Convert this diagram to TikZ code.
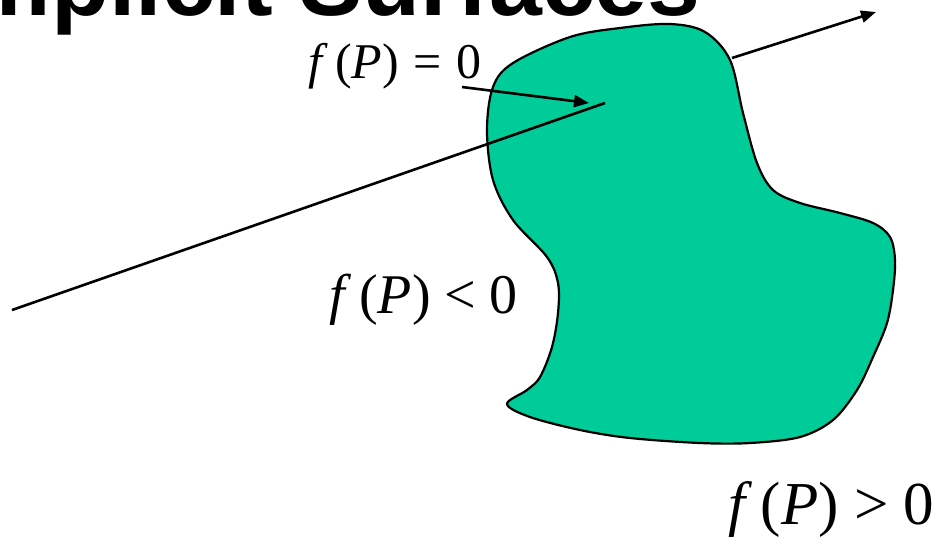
\documentclass[tikz,border=0pt]{standalone}
\usepackage{fontspec}
\setmainfont{Liberation Serif}
\setsansfont{Liberation Sans}
\usepackage{xcolor}
\usetikzlibrary{arrows.meta,positioning}
\definecolor{blobgreen}{HTML}{00CC99}
\newcommand{\fofP}{\textit{f}\hspace{0.14em}(\textit{P})}

\begin{document}
\begin{tikzpicture}[x=0.5pt, y=-0.5pt,
  lbl/.style={inner sep=0pt, anchor=base west},
  ray/.style={line width=1.3pt},
  tip/.style={-{Triangle[length=7.5pt,width=6pt]}}]
  \useasboundingbox (0,0) rectangle (935,537);

  \node[lbl, font=\sffamily\bfseries\fontsize{47.5}{50}\selectfont] (title) at (-60,15) {Implicit Surfaces};

  % the surface
  \draw[line width=1.1pt, fill=blobgreen] plot[smooth cycle, tension=0.55] coordinates {
    (487,130) (493,87) (513,63) (570,37) (620,28) (670,24) (705,32) (730,60)
    (743,113) (757,163) (773,190) (800,203) (840,213) (873,223) (890,237)
    (895,260) (893,290) (887,323) (873,357) (857,390) (833,420) (800,437)
    (750,443) (700,443) (630,438) (580,430) (530,417) (507,404) (527,390)
    (540,377) (552,347) (558,313) (558,283) (547,257) (513,220) (493,180)};

  \coordinate (eye) at (12,310);
  \coordinate (hit) at (605,103);
  \coordinate (exitpt) at (732,58);
  \coordinate (far) at (876,12);
  \coordinate (zerotail) at (462,87);
  \coordinate (zerohead) at (589,103);

  \draw[ray] (eye) -- (hit);
  \draw[ray, tip] (exitpt) -- (far);

  \node[lbl, font=\fontsize{25}{28}\selectfont] (zerolbl) at (308,78) {\fofP\hspace{0.3em}=\hspace{0.28em}0};
  \draw[ray, tip] (zerotail) -- (zerohead);

  \node[lbl, font=\fontsize{28}{31}\selectfont] (insidelbl) at (329,313) {\fofP\hspace{0.24em}<\hspace{0.24em}0};
  \node[lbl, font=\fontsize{30.5}{33}\selectfont] (outsidelbl) at (728,524) {\fofP\hspace{0.25em}>\hspace{0.25em}0};
\end{tikzpicture}
\end{document}
